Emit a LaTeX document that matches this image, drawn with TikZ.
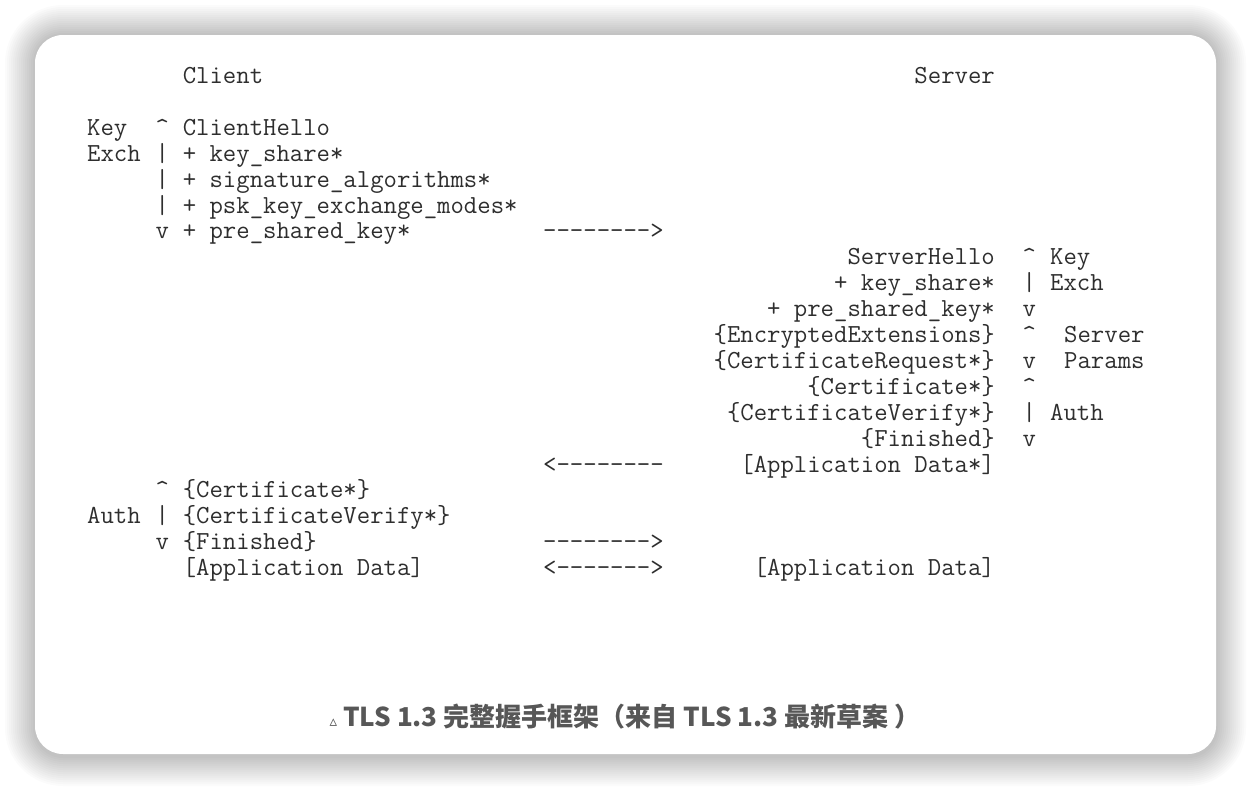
\documentclass[tikz,border=0pt]{standalone}
\usepackage{fontspec}
\newfontfamily\capfont{Noto Sans CJK SC}
\newfontfamily\symfont{DejaVu Sans}
\usetikzlibrary{positioning}

\tikzset{
  msg/.style={font=\ttfamily\fontsize{26}{30}\selectfont, text=black!82, inner sep=0pt},
  cli/.style={msg, anchor=base west},
  srv/.style={msg, anchor=base east},
}

\begin{document}
\begin{tikzpicture}[x=1pt,y=-1pt]
\useasboundingbox (0,0) rectangle (1252,790);
% page, soft shadow and card
\fill[white] (0,0) rectangle (1252,790);
\foreach \o in {30,28,...,2}
  \fill[black,opacity=0.014,rounded corners=28+\o] (35-\o,35-\o) rectangle (1216+\o,756+\o);
\fill[white,rounded corners=28] (35,35) rectangle (1216,754);
% headers
\node[cli] (client) at (182.6,83.5) {Client};
\node[srv] (server) at (995,83.5) {Server};
% client: key exchange
\node[cli] (ckey)  at (87,135.3) {Key};
\node[cli] (cexch) at (87,161.2) {Exch};
\foreach \y/\m [count=\i] in {135.3/\textasciicircum, 161.2/|, 187.1/|, 213.0/|, 238.9/v}
  \node[cli] (cbar\i) at (155.3,\y) {\m};
\foreach \y/\t [count=\i] in {135.3/ClientHello, 161.2/+ key\_share*, 187.1/+ signature\_algorithms*,
    213.0/+ psk\_key\_exchange\_modes*, 238.9/+ pre\_shared\_key*}
  \node[cli] (chello\i) at (182.6,\y) {\t};
\node[cli] (arrA) at (543,238.9) {-------->};
% server flight
\foreach \y/\t [count=\i] in {264.8/ServerHello, 290.7/+ key\_share*, 316.6/+ pre\_shared\_key*,
    342.5/\{EncryptedExtensions\}, 368.4/\{CertificateRequest*\}, 394.3/\{Certificate*\},
    420.2/\{CertificateVerify*\}, 446.1/\{Finished\}, 472.0/{[Application Data*]}}
  \node[srv] (shello\i) at (995,\y) {\t};
\foreach \y/\m [count=\i] in {264.8/\textasciicircum, 290.7/|, 316.6/v, 342.5/\textasciicircum,
    368.4/v, 394.3/\textasciicircum, 420.2/|, 446.1/v}
  \node[cli] (sbar\i) at (1022.5,\y) {\m};
\node[cli] (skey)    at (1050,264.8) {Key};
\node[cli] (sexch)   at (1050,290.7) {Exch};
\node[cli] (sserver) at (1064,342.5) {Server};
\node[cli] (sparams) at (1064,368.4) {Params};
\node[cli] (sauth)   at (1050,420.2) {Auth};
\node[cli] (arrB) at (543,472.0) {<--------};
% client: auth
\node[cli] (cauth) at (87,523.8) {Auth};
\foreach \y/\m [count=\i] in {497.9/\textasciicircum, 523.8/|, 549.7/v}
  \node[cli] (cabar\i) at (155.3,\y) {\m};
\foreach \y/\t [count=\i] in {497.9/\{Certificate*\}, 523.8/\{CertificateVerify*\},
    549.7/\{Finished\}, 575.6/{[Application Data]}}
  \node[cli] (cfin\i) at (182.6,\y) {\t};
\node[cli] (arrC) at (543,549.7) {-------->};
\node[cli] (arrD) at (543,575.6) {<------->};
\node[srv] (sdata) at (995,575.6) {[Application Data]};
% caption
\node[font=\capfont\bfseries\fontsize{26}{30}\selectfont, text=black!66, anchor=base, inner sep=0pt]
  (caption) at (625,726) {{\symfont\mdseries\fontsize{15}{18}\selectfont ▵}\ TLS 1.3 完整握手框架（来自 TLS 1.3 最新草案 ）};
\end{tikzpicture}
\end{document}
